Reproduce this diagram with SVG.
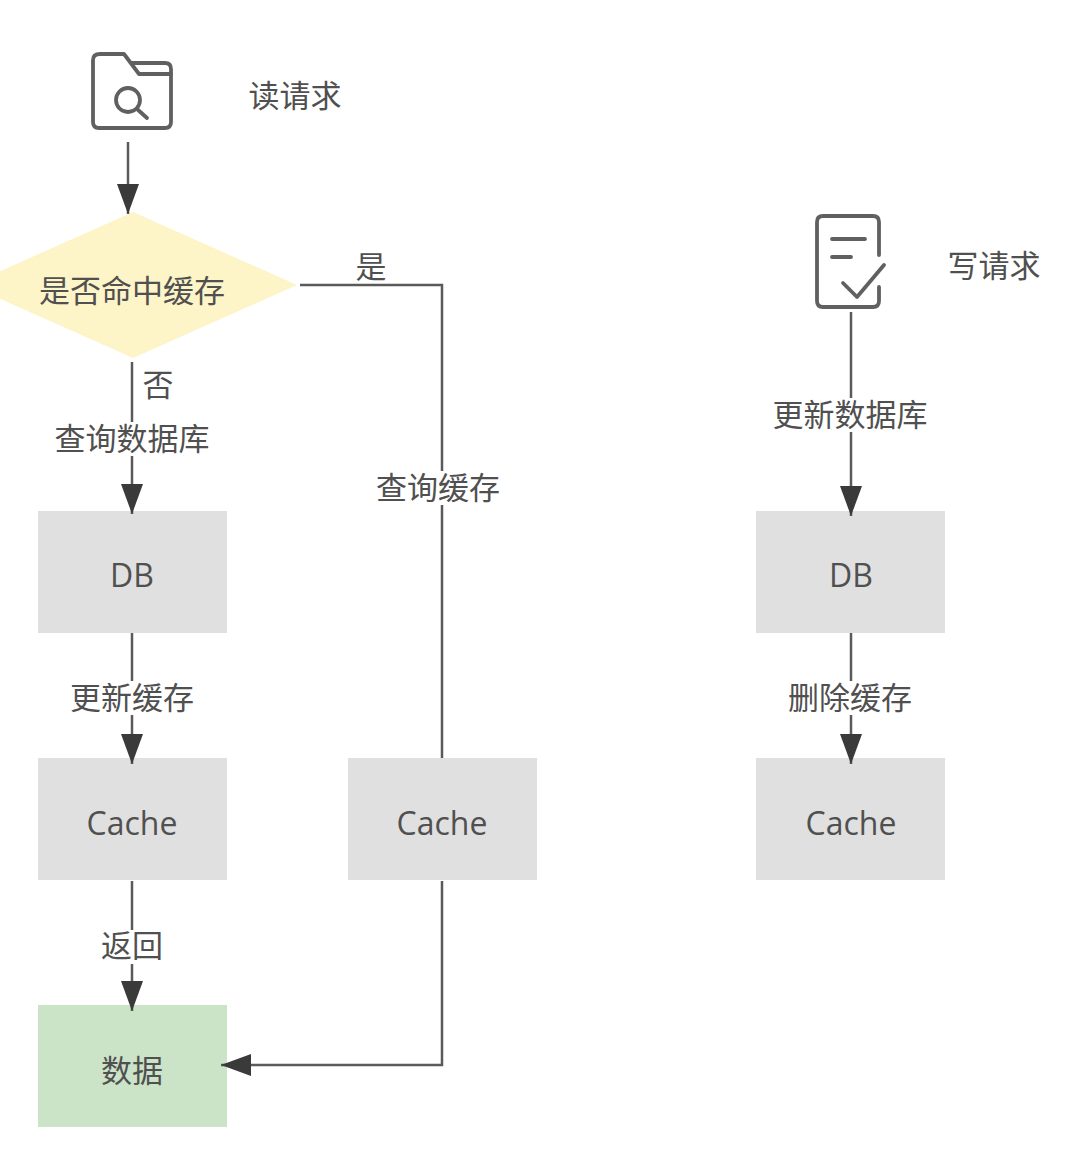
<svg xmlns="http://www.w3.org/2000/svg" width="1066" height="1156" viewBox="0 0 1066 1156">
<style>
text{font-family:"Noto Sans CJK SC","Noto Sans",sans-serif;font-size:31px;fill:#505050;text-anchor:middle;font-weight:400}
.lat{font-family:"Open Sans","Noto Sans",sans-serif;font-size:32px;font-weight:400}
.box{fill:#e0e0e0}
.ln{fill:none;stroke:#5a5a5a;stroke-width:2.5}
.ic{fill:none;stroke:#606060;stroke-width:3.8;stroke-linecap:round;stroke-linejoin:round}
.bg{fill:#fff}
</style>
<defs><marker id="a" markerUnits="userSpaceOnUse" markerWidth="30" markerHeight="22" refX="30" refY="11" viewBox="0 0 30 22" orient="auto"><path d="M0 0L30 11L0 22Z" fill="#3a3a3a"/></marker></defs>
<rect width="1066" height="1156" fill="#fff"/>
<g id="read-icon" class="ic">
<path d="M100 54H124L139 74H171V122Q171 128 165 128H99Q93 128 93 122V60Q93 54 100 54Z"/>
<path d="M132 63H165Q171 63 171 69V74"/>
<circle cx="128" cy="100" r="12"/>
<path d="M137 109L147 118"/>
</g>
<g id="read-label"><text x="295" y="107">读请求</text></g>
<g id="write-icon" class="ic">
<path d="M879 255V222Q879 216 873 216H823Q817 216 817 222V301Q817 307 823 307H873Q879 307 879 301V287"/>
<path d="M832 239H865M832 257H851"/>
<path d="M843 283L857 297L884 265"/>
</g>
<g id="write-label"><text x="994" y="277">写请求</text></g>
<g id="decision">
<path d="M133 212L297 285L133 358L-31 285Z" fill="#fdf4c8"/>
<text x="132" y="302">是否命中缓存</text>
</g>
<g id="db-read"><rect class="box" x="38" y="511" width="189" height="122"/><text class="lat" x="132" y="587">DB</text></g>
<g id="cache-read"><rect class="box" x="38" y="758" width="189" height="122"/><text class="lat" x="132" y="835">Cache</text></g>
<g id="cache-hit"><rect class="box" x="348" y="758" width="189" height="122"/><text class="lat" x="442" y="835">Cache</text></g>
<g id="data"><rect x="38" y="1005" width="189" height="122" fill="#cbe4c8"/><text x="132" y="1082">数据</text></g>
<g id="db-write"><rect class="box" x="756" y="511" width="189" height="122"/><text class="lat" x="851" y="587">DB</text></g>
<g id="cache-write"><rect class="box" x="756" y="758" width="189" height="122"/><text class="lat" x="851" y="835">Cache</text></g>
<g id="connectors">
<path class="ln" d="M128 142V214" marker-end="url(#a)"/>
<path class="ln" d="M300 285H442V758"/>
<path class="ln" d="M132 362V514" marker-end="url(#a)"/>
<path class="ln" d="M132 633V764" marker-end="url(#a)"/>
<path class="ln" d="M132 881V1011" marker-end="url(#a)"/>
<path class="ln" d="M442 881V1065H221" marker-end="url(#a)"/>
<path class="ln" d="M851 312V516" marker-end="url(#a)"/>
<path class="ln" d="M851 633V764" marker-end="url(#a)"/>
</g>
<g id="labels">
<text x="371" y="278">是</text>
<text x="158" y="396">否</text>
<rect class="bg" x="54" y="422" width="156" height="34"/><text x="132" y="450">查询数据库</text>
<rect class="bg" x="376" y="471" width="125" height="34"/><text x="438" y="499">查询缓存</text>
<rect class="bg" x="70" y="681" width="125" height="34"/><text x="132" y="709">更新缓存</text>
<rect class="bg" x="101" y="930" width="62" height="34"/><text x="132" y="957">返回</text>
<rect class="bg" x="772" y="398" width="157" height="34"/><text x="850" y="426">更新数据库</text>
<rect class="bg" x="788" y="681" width="125" height="34"/><text x="850" y="709">删除缓存</text>
</g>
</svg>
